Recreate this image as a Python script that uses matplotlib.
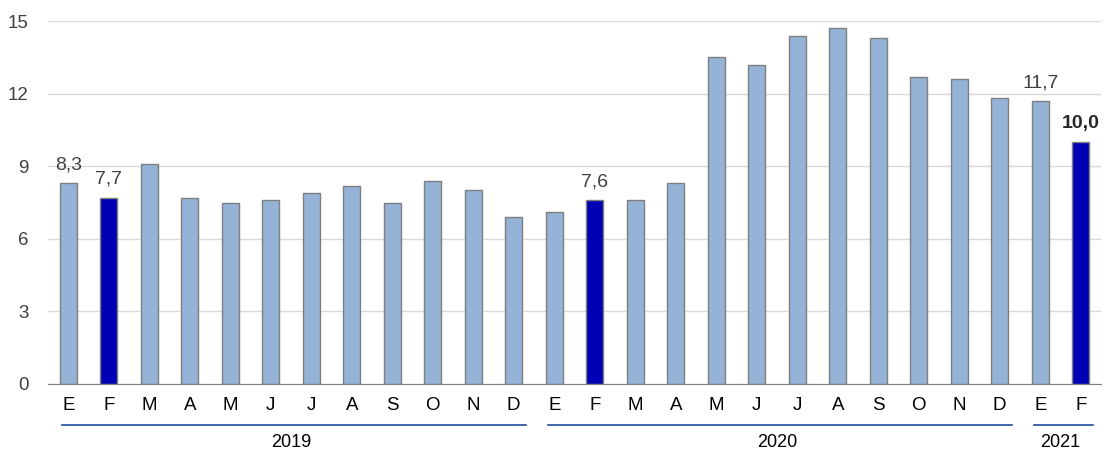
import matplotlib.pyplot as plt

months = ["E", "F", "M", "A", "M", "J", "J", "A", "S", "O", "N", "D",
          "E", "F", "M", "A", "M", "J", "J", "A", "S", "O", "N", "D",
          "E", "F"]
values = [8.3, 7.7, 9.1, 7.7, 7.5, 7.6, 7.9, 8.2, 7.5, 8.4, 8.0, 6.9,
          7.1, 7.6, 7.6, 8.3, 13.5, 13.2, 14.4, 14.7, 14.3, 12.7, 12.6, 11.8,
          11.7, 10.0]
highlight = [1, 13, 25]
labelled = [0, 1, 13, 24, 25]
years = ["2019", "2020", "2021"]
year_spans = [(0, 11), (12, 23), (24, 25)]

plt.rcParams['font.family'] = ['Liberation Sans', 'DejaVu Sans']

fig = plt.figure(figsize=(11.05, 4.5), dpi=100)
ax = fig.add_axes([48 / 1105, 66 / 450, 1053 / 1105, 363 / 450])

x = list(range(len(values)))
colors = ['#0000B4' if i in highlight else '#95B3D7' for i in x]
ax.bar(x, values, width=0.42, color=colors, edgecolor='#7F7F7F', linewidth=1, zorder=3)

for i in labelled:
    txt = f"{values[i]:.1f}".replace(".", ",")
    bold = i == len(values) - 1
    ax.text(i, values[i] + 0.4, txt, ha='center', va='bottom', fontsize=14,
            color='#262626' if bold else '#404040',
            fontweight='bold' if bold else 'normal')

ax.set_xlim(-0.5, len(values) - 0.5)
ax.set_ylim(0, 15)
ax.set_yticks([0, 3, 6, 9, 12, 15])
ax.yaxis.grid(True, color='#D9D9D9', linewidth=1, zorder=0)
ax.tick_params(axis='y', length=0, labelsize=13.5, labelcolor='#404040', pad=14)
ax.set_xticks(x)
ax.set_xticklabels(months)
ax.tick_params(axis='x', length=0, labelsize=13.5, labelcolor='black', pad=9)
for s in ['top', 'right', 'left']:
    ax.spines[s].set_visible(False)
ax.spines['bottom'].set_color('#808080')
ax.spines['bottom'].set_zorder(4)

for yr, (a, b) in zip(years, year_spans):
    ax.plot([a - 0.15, b + 0.3], [-1.68, -1.68], color='#1F4E9A', linewidth=1.2,
            clip_on=False)
    ax.text((a + b) / 2, -2.05, yr, ha='center', va='top', fontsize=13, color='black')

fig.savefig("out.png", dpi=100)
